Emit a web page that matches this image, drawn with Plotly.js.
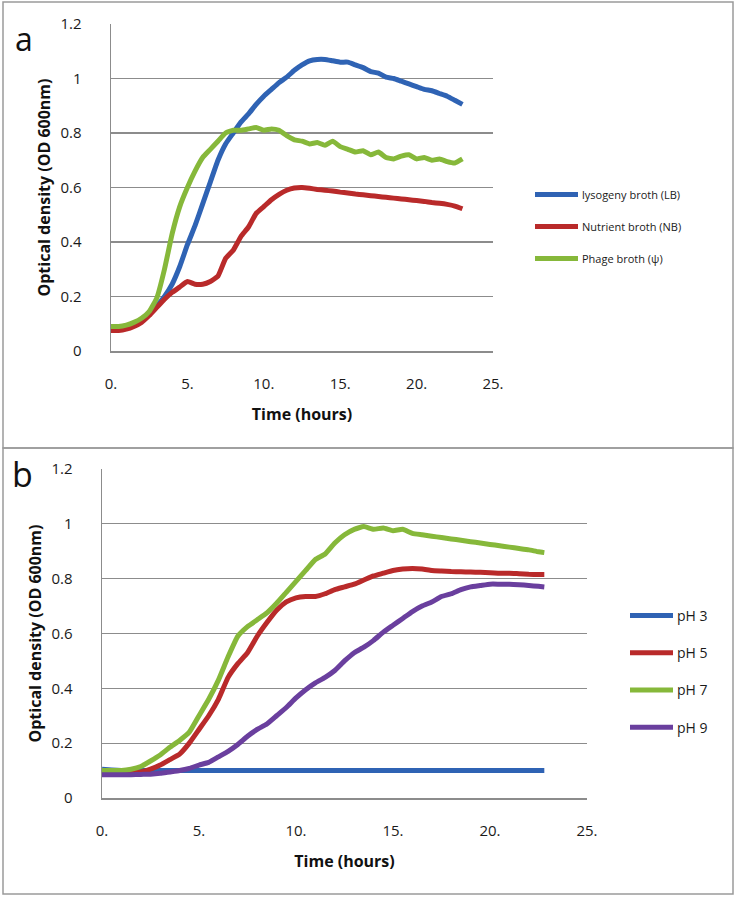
<!DOCTYPE html>
<html>
<head>
<meta charset="utf-8">
<script src="https://cdn.plot.ly/plotly-3.0.1.min.js"></script>
<style>html,body{margin:0;padding:0;background:#fff;}#chart{width:737px;height:897px;}</style>
</head>
<body>
<div id="chart"></div>
<script>
// ---------- Panel a data ----------
const timeA = [0,0.5,1,1.5,2,2.5,3,3.5,4,4.5,5,5.5,6,6.5,7,7.5,8,8.5,9,9.5,10,10.5,11,11.5,12,12.5,13,13.5,14,14.5,15,15.5,16,16.5,17,17.5,18,18.5,19,19.5,20,20.5,21,21.5,22,22.5,23];
const lbBroth = [0.085,0.085,0.09,0.10,0.115,0.135,0.165,0.20,0.245,0.31,0.39,0.46,0.54,0.62,0.70,0.76,0.80,0.84,0.87,0.905,0.935,0.96,0.985,1.005,1.03,1.05,1.065,1.07,1.07,1.065,1.06,1.06,1.05,1.04,1.025,1.02,1.005,1.0,0.99,0.98,0.97,0.96,0.955,0.945,0.935,0.92,0.905];
const nbBroth = [0.075,0.075,0.08,0.09,0.105,0.13,0.16,0.19,0.215,0.235,0.255,0.245,0.245,0.255,0.275,0.34,0.37,0.42,0.455,0.505,0.53,0.555,0.575,0.59,0.598,0.60,0.597,0.593,0.59,0.587,0.583,0.58,0.576,0.573,0.57,0.567,0.564,0.561,0.558,0.555,0.552,0.549,0.545,0.542,0.538,0.532,0.522];
const phageBroth = [0.09,0.09,0.095,0.105,0.12,0.145,0.195,0.30,0.43,0.53,0.60,0.66,0.71,0.74,0.77,0.80,0.81,0.81,0.815,0.82,0.81,0.815,0.81,0.79,0.775,0.77,0.76,0.765,0.755,0.77,0.75,0.74,0.73,0.735,0.72,0.73,0.71,0.705,0.715,0.72,0.705,0.71,0.70,0.705,0.695,0.69,0.705];
const namesA = ["lysogeny broth (LB)","Nutrient broth (NB)","Phage broth (\u03C8)"];

// ---------- Panel b data ----------
const timeB = [0,0.5,1,1.5,2,2.5,3,3.5,4,4.5,5,5.5,6,6.5,7,7.5,8,8.5,9,9.5,10,10.5,11,11.5,12,12.5,13,13.5,14,14.5,15,15.5,16,16.5,17,17.5,18,18.5,19,19.5,20,20.5,21,21.5,22,22.5,22.8];
const pH3 = [0.105,0.102,0.1,0.1,0.1,0.1,0.1,0.1,0.1,0.1,0.1,0.1,0.1,0.1,0.1,0.1,0.1,0.1,0.1,0.1,0.1,0.1,0.1,0.1,0.1,0.1,0.1,0.1,0.1,0.1,0.1,0.1,0.1,0.1,0.1,0.1,0.1,0.1,0.1,0.1,0.1,0.1,0.1,0.1,0.1,0.1,0.1];
const pH5 = [0.09,0.09,0.09,0.092,0.095,0.105,0.12,0.14,0.16,0.20,0.25,0.30,0.36,0.44,0.49,0.53,0.59,0.64,0.685,0.715,0.73,0.735,0.735,0.745,0.76,0.77,0.78,0.795,0.81,0.82,0.83,0.835,0.837,0.835,0.83,0.828,0.826,0.825,0.824,0.823,0.822,0.82,0.82,0.818,0.816,0.815,0.815];
const pH7 = [0.1,0.1,0.1,0.105,0.115,0.135,0.157,0.185,0.21,0.24,0.30,0.36,0.43,0.515,0.59,0.625,0.65,0.675,0.71,0.75,0.79,0.83,0.87,0.89,0.93,0.96,0.98,0.99,0.98,0.985,0.975,0.98,0.965,0.96,0.955,0.95,0.945,0.94,0.935,0.93,0.925,0.92,0.915,0.91,0.905,0.898,0.895];
const pH9 = [0.085,0.085,0.085,0.085,0.086,0.087,0.09,0.095,0.10,0.108,0.12,0.13,0.15,0.17,0.195,0.225,0.25,0.27,0.30,0.33,0.365,0.395,0.42,0.44,0.465,0.50,0.53,0.55,0.575,0.605,0.63,0.655,0.68,0.70,0.715,0.735,0.745,0.76,0.77,0.775,0.78,0.78,0.78,0.778,0.775,0.772,0.77];
const namesB = ["pH 3","pH 5","pH 7","pH 9"];

// ---------- Axis labels ----------
const xTickVals = [0,5,10,15,20,25];
const xTickText = ["0.","5.","10.","15.","20.","25."];
const yTickVals = [0,0.2,0.4,0.6,0.8,1,1.2];
const yTickText = ["0","0.2","0.4","0.6","0.8","1","1.2"];
const xTitle = "Time (hours)";
const yTitle = "Optical density (OD 600nm)";

const BLUE="#2F63B4", RED="#B92A2A", GREEN="#86B83A", PURPLE="#6A3F9E";
const W=737, H=897;
const px = v => v/W, py = v => 1 - v/H;
const FONT = "Open Sans, Noto Sans, sans-serif";

function line(x, y, name, color, xa, ya, leg, grp){
  return {x:x, y:y, name:name, type:"scatter", mode:"lines", xaxis:xa, yaxis:ya,
    legend:leg, legendgroup:grp, line:{color:color, width:5, shape:"spline", smoothing:0.4}};
}

const data = [
  line(timeA, lbBroth, namesA[0], BLUE, "x", "y", "legend", "a1"),
  line(timeA, nbBroth, namesA[1], RED, "x", "y", "legend", "a2"),
  line(timeA, phageBroth, namesA[2], GREEN, "x", "y", "legend", "a3"),
  line(timeB, pH3, namesB[0], BLUE, "x2", "y2", "legend2", "b1"),
  line(timeB, pH5, namesB[1], RED, "x2", "y2", "legend2", "b2"),
  line(timeB, pH7, namesB[2], GREEN, "x2", "y2", "legend2", "b3"),
  line(timeB, pH9, namesB[3], PURPLE, "x2", "y2", "legend2", "b4")
];

function xAxis(dom, anchor){
  return {domain:dom, anchor:anchor, range:[0,25], tickvals:xTickVals, ticktext:xTickText,
    showgrid:false, zeroline:false, showline:true, linecolor:"#8c8c8c", linewidth:1.5,
    ticks:"", ticklabelstandoff:18, tickfont:{family:FONT, size:15, color:"#1a1a1a"},
    title:{text:"<b>"+xTitle+"</b>", font:{family:FONT, size:16, color:"#111"}, standoff:17}};
}
function yAxis(dom, anchor){
  return {domain:dom, anchor:anchor, range:[0,1.2], tickvals:yTickVals, ticktext:yTickText,
    showgrid:true, gridcolor:"#8c8c8c", gridwidth:1.2, zeroline:false, showline:true,
    linecolor:"#8c8c8c", linewidth:1.5, ticks:"", ticklabelstandoff:25,
    tickfont:{family:FONT, size:15, color:"#1a1a1a"},
    title:{text:"<b>"+yTitle+"</b>", font:{family:FONT, size:16, color:"#111"}, standoff:6}};
}

const layout = {
  width:W, height:H, margin:{l:0,r:0,t:0,b:0}, paper_bgcolor:"#fff", plot_bgcolor:"#fff",
  showlegend:true,
  xaxis: xAxis([px(111), px(493)], "y"),
  yaxis: yAxis([py(351), py(24)], "x"),
  xaxis2: xAxis([px(102), px(587)], "y2"),
  yaxis2: yAxis([py(798), py(469)], "x2"),
  legend:{x:px(528), y:py(180), xanchor:"left", yanchor:"top", bgcolor:"rgba(0,0,0,0)",
    font:{family:FONT, size:11, color:"#1a1a1a"}, tracegroupgap:13, itemwidth:44},
  legend2:{x:px(623), y:py(600), xanchor:"left", yanchor:"top", bgcolor:"rgba(0,0,0,0)",
    font:{family:FONT, size:14, color:"#1a1a1a"}, tracegroupgap:16, itemwidth:44},
  shapes:[
    {type:"rect", xref:"paper", yref:"paper", x0:px(3), x1:px(733), y0:py(448), y1:py(2), line:{color:"#9a9a9a", width:1.5}},
    {type:"rect", xref:"paper", yref:"paper", x0:px(3), x1:px(733), y0:py(894), y1:py(448), line:{color:"#9a9a9a", width:1.5}}
  ],
  annotations:[
    {text:"a", xref:"paper", yref:"paper", x:px(13), y:py(38), xanchor:"left", yanchor:"middle", showarrow:false, font:{family:FONT, size:32, color:"#111"}},
    {text:"b", xref:"paper", yref:"paper", x:px(10), y:py(474), xanchor:"left", yanchor:"middle", showarrow:false, font:{family:FONT, size:34, color:"#111"}}
  ]
};

Plotly.newPlot("chart", data, layout, {staticPlot:true, displayModeBar:false}).then(function(gd){
  // stretch legend sample lines to match the reference's longer swatches
  gd.querySelectorAll(".legendlines path").forEach(function(p){ p.setAttribute("d","M7,0h43"); });
});
</script>
</body>
</html>
